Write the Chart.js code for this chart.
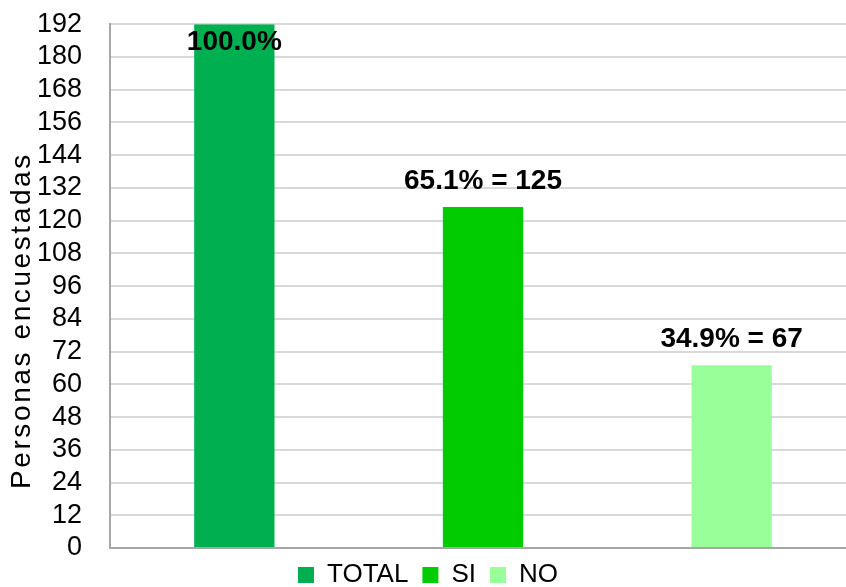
<!DOCTYPE html>
<html>
<head>
<meta charset="utf-8">
<script src="https://cdn.jsdelivr.net/npm/chart.js@4"></script>
<style>
  html, body { margin: 0; padding: 0; background: #fff; overflow: hidden; }
  body { height: 587px; }
  #wrap { position: relative; top: -20px; width: 856px; height: 618px; }
</style>
</head>
<body>
<div id="wrap"><canvas id="chart"></canvas></div>
<script>
const categories = ['TOTAL', 'SI', 'NO'];
const values = [192, 125, 67];
const percents = ['100.0%', '65.1%', '34.9%'];
const colors = ['#00b050', '#00cc00', '#99ff99'];
const yTitle = 'Personas encuestadas';

const FONT = '"Liberation Sans", Arial, sans-serif';

// una serie por categoria, asi la leyenda muestra las tres
const datasets = categories.map((name, i) => ({
  label: name,
  data: categories.map((c, j) => (j === i ? values[i] : null)),
  backgroundColor: colors[i],
  borderWidth: 0,
  categoryPercentage: 1,
  barPercentage: 0.323
}));

const labelPlugin = {
  id: 'barLabels',
  afterDatasetsDraw(chart) {
    const ctx = chart.ctx;
    const area = chart.chartArea;
    ctx.save();
    ctx.font = 'bold 28px ' + FONT;
    ctx.fillStyle = '#000';
    ctx.textAlign = 'center';
    ctx.textBaseline = 'middle';
    chart.data.datasets.forEach((ds, i) => {
      const bar = chart.getDatasetMeta(i).data[i];
      const text = i === 0 ? percents[i] : percents[i] + ' = ' + values[i];
      const y = Math.max(bar.y - 26, area.top + 18);
      ctx.fillText(text, bar.x, y);
    });
    // titulo del eje y
    ctx.font = '28px ' + FONT;
    ctx.letterSpacing = '2.6px';
    ctx.textAlign = 'left';
    ctx.translate(22, area.bottom - 59);
    ctx.rotate(-Math.PI / 2);
    ctx.fillText(yTitle, 0, 0);
    ctx.restore();
  }
};

new Chart(document.getElementById('chart'), {
  type: 'bar',
  data: { labels: categories, datasets },
  plugins: [labelPlugin],
  options: {
    responsive: true,
    maintainAspectRatio: false,
    animation: false,
    skipNull: true,
    plugins: {
      tooltip: { enabled: false },
      legend: {
        position: 'bottom',
        labels: {
          boxWidth: 16,
          boxHeight: 16,
          padding: 14,
          color: '#000',
          font: { size: 26, family: FONT, lineHeight: 1 }
        }
      }
    },
    scales: {
      x: {
        ticks: { display: false },
        grid: { display: false, drawTicks: false },
        border: { color: '#a6a6a6', width: 2 }
      },
      y: {
        min: 0,
        max: 192,
        afterFit(scale) { scale.width = 110; },
        ticks: {
          stepSize: 12,
          autoSkip: false,
          padding: 28,
          color: '#000',
          font: { size: 27, family: FONT }
        },
        grid: { color: '#d9d9d9', lineWidth: 2, drawTicks: false },
        border: { color: '#a6a6a6', width: 2 }
      }
    }
  }
});
</script>
</body>
</html>
